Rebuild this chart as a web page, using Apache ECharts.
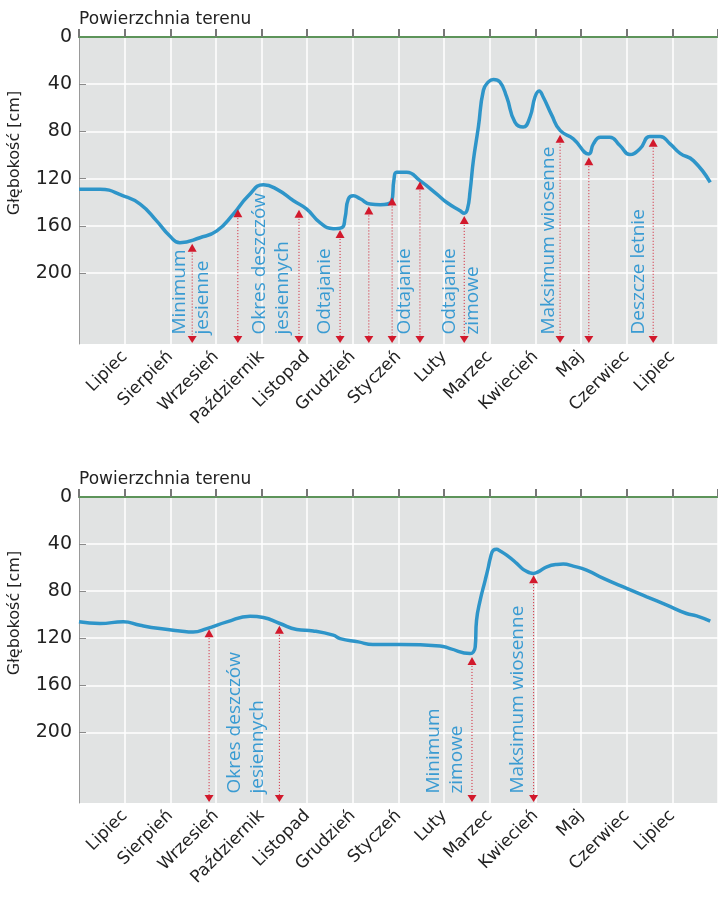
<!DOCTYPE html>
<html>
<head>
<meta charset="utf-8">
<script src="https://cdn.jsdelivr.net/npm/echarts@6/dist/echarts.min.js"></script>
<style>
  html, body {margin: 0; padding: 0; background: #fff;}
  #chart {width: 718px; height: 900px;}
</style>
</head>
<body>
<div id="chart"></div>
<script>
// month labels sit on ticks 1..13
const months = ['Lipiec', 'Sierpień', 'Wrzesień', 'Październik', 'Listopad', 'Grudzień',
  'Styczeń', 'Luty', 'Marzec', 'Kwiecień', 'Maj', 'Czerwiec', 'Lipiec'];
const depthTicks = [0, 40, 80, 120, 160, 200];
const DEPTH_MAX = 260;

// [month position, depth cm]
const profileA = [
  [0, 129], [0.46, 129], [0.97, 134.5], [1.34, 141.5], [1.70, 155.7], [1.99, 168.5],
  [2.21, 174.2], [2.65, 170], [3.02, 164.2], [3.38, 150], [3.71, 134.5], [4.04, 125.1],
  [4.33, 128.8], [4.70, 138.7], [4.99, 145.8], [5.28, 157.2], [5.57, 162.3], [5.76, 161.4],
  [5.83, 152.9], [5.90, 137.3], [6.01, 134.5], [6.16, 137], [6.38, 141.5], [6.60, 142],
  [6.85, 139], [6.90, 121], [6.96, 114.6], [7.18, 114.6], [7.47, 121.7], [7.84, 133],
  [8.06, 140.2], [8.35, 147.2], [8.44, 149.2], [8.51, 145.8], [8.57, 130], [8.64, 104.7],
  [8.75, 76.3], [8.86, 45.1], [8.97, 38], [9.08, 36], [9.22, 38], [9.37, 50.8],
  [9.55, 72.1], [9.73, 76.3], [9.88, 67.8], [9.99, 50.8], [10.08, 45.7], [10.17, 50.8],
  [10.36, 66.4], [10.54, 79.1], [10.83, 86.2], [11.17, 99], [11.27, 90.5], [11.42, 84.8],
  [11.63, 84.8], [11.85, 91.9], [12.07, 99.6], [12.29, 94.7], [12.51, 84.2], [12.73, 84.2],
  [12.95, 90.5], [13.17, 98.5], [13.46, 104.7], [13.83, 123.1]
];
const profileB = [
  [0, 106], [0.46, 107.5], [0.97, 106], [1.34, 109], [1.77, 111.8], [2.21, 113.8],
  [2.50, 114.7], [2.80, 111.8], [3.24, 106.1], [3.75, 101.3], [4.04, 102.4], [4.40, 107.5],
  [4.77, 112.6], [5.13, 113.8], [5.57, 117.4], [5.72, 120.3], [6.12, 123.1], [6.44, 125.4],
  [7.04, 125.4], [7.91, 126.5], [8.13, 128.8], [8.57, 133], [8.64, 131.7], [8.68, 127.6],
  [8.71, 104.7], [8.79, 87.7], [8.90, 70.6], [8.97, 59.3], [9.01, 52.2], [9.08, 45.1],
  [9.15, 44.5], [9.22, 45.7], [9.37, 49.4], [9.59, 56.4], [9.73, 61.5], [9.88, 64.4],
  [9.95, 65], [10.06, 63.6], [10.25, 59.3], [10.47, 57.3], [10.61, 57], [10.83, 58.7],
  [11.12, 62.1], [11.49, 69.2], [12.00, 77.7], [12.44, 84.8], [12.88, 91.9], [13.31, 99],
  [13.53, 101], [13.83, 105.5]
];

// arrow markers: [month position, depth of upper tip]
const arrowsA = [[2.48, 175], [3.48, 145.8], [4.82, 146.4], [5.72, 163.4], [6.35, 143.5],
  [6.86, 135.9], [7.47, 122.3], [8.44, 151.5], [10.54, 82.8], [11.17, 101.8], [12.58, 86.2]];
const arrowsB = [[2.85, 112.3], [4.39, 109.5], [8.61, 135.9], [9.96, 66.4]];

const notesA = ['Minimum\njesienne', 'Okres deszczów\njesiennych', 'Odtajanie', 'Odtajanie',
  'Odtajanie\nzimowe', 'Maksimum wiosenne', 'Deszcze letnie'];
const notesAPos = [2.46, 4.21, 5.39, 7.14, 8.37, 10.28, 12.25];
const notesB = ['Okres deszczów\njesiennych', 'Minimum\nzimowe', 'Maksimum wiosenne'];
const notesBPos = [3.65, 8.03, 9.62];
const NOTE_BASE = 252;

const RED = '#d2192c';
const LINE_BLUE = '#2e95c9';
const TEXT_BLUE = '#3a9bd2';
const AXIS_FONT = '"DejaVu Sans"';

const chart = echarts.init(document.getElementById('chart'));

const arrowItem = (params, api) => {
  const top = api.coord([api.value(0), api.value(1)]);
  const bot = api.coord([api.value(0), DEPTH_MAX]);
  const x = top[0];
  return {
    type: 'group',
    children: [
      {type: 'line', shape: {x1: x, y1: top[1] + 6, x2: x, y2: bot[1] - 6},
        style: {stroke: RED, lineWidth: 1, lineDash: [1, 2]}},
      {type: 'polygon', shape: {points: [[x, top[1]], [x - 4.5, top[1] + 8], [x + 4.5, top[1] + 8]]},
        style: {fill: RED}},
      {type: 'polygon', shape: {points: [[x, bot[1] - 1], [x - 4.5, bot[1] - 8], [x + 4.5, bot[1] - 8]]},
        style: {fill: RED}}
    ]
  };
};

const noteItem = (texts) => (params, api) => {
  const p = api.coord([api.value(0), NOTE_BASE]);
  return {
    type: 'text',
    x: p[0],
    y: p[1],
    rotation: Math.PI / 2,
    style: {
      text: texts[params.dataIndex],
      fill: TEXT_BLUE,
      font: '19px "Open Sans"',
      lineHeight: 23,
      textAlign: 'left',
      textVerticalAlign: 'middle'
    }
  };
};

const bottomAxis = (gridIndex) => ({
  type: 'value', gridIndex, min: 0, max: 14, interval: 1,
  axisLine: {lineStyle: {color: '#5f5f5f', width: 2}},
  axisTick: {inside: true, length: 8, lineStyle: {color: '#777', width: 2}},
  splitLine: {show: true, lineStyle: {color: '#fff', width: 1.5}},
  axisLabel: {
    customValues: months.map((m, i) => i + 1),
    formatter: (v) => months[v - 1] || '',
    rotate: 45, margin: 10, fontSize: 17, color: '#222', fontFamily: AXIS_FONT
  }
});

const topAxis = (gridIndex) => ({
  type: 'value', gridIndex, position: 'top', min: 0, max: 14,
  axisLine: {lineStyle: {color: '#5ea65a', width: 1.5}},
  axisTick: {show: false}, axisLabel: {show: false}, splitLine: {show: false}
});

const depthAxis = (gridIndex) => ({
  type: 'value', gridIndex, inverse: true, min: 0, max: DEPTH_MAX, interval: 40,
  axisLine: {show: true, lineStyle: {color: '#999', width: 1}},
  axisTick: {show: true, inside: true, length: 7, customValues: depthTicks.slice(1),
    lineStyle: {color: '#8a8a8a'}},
  splitLine: {show: true, lineStyle: {color: '#fff', width: 1.5}},
  axisLabel: {customValues: depthTicks, margin: 7, fontSize: 19, color: '#222', fontFamily: AXIS_FONT}
});

const titleStyle = {fontSize: 17, fontWeight: 'normal', color: '#222', fontFamily: AXIS_FONT};
const nameStyle = {text: 'Głębokość [cm]', font: '16px ' + AXIS_FONT, fill: '#222',
  textAlign: 'center', textVerticalAlign: 'middle'};

chart.setOption({
  animation: false,
  title: [
    {text: 'Powierzchnia terenu', left: 79, top: 11, padding: 0, textStyle: titleStyle},
    {text: 'Powierzchnia terenu', left: 79, top: 471, padding: 0, textStyle: titleStyle}
  ],
  graphic: [
    {type: 'text', x: 15, y: 153, rotation: Math.PI / 2, style: nameStyle},
    {type: 'text', x: 15, y: 613, rotation: Math.PI / 2, style: nameStyle}
  ],
  grid: [
    {left: 79, top: 37, width: 639, height: 307, show: true, backgroundColor: '#e1e3e3', borderWidth: 0},
    {left: 79, top: 497, width: 639, height: 306, show: true, backgroundColor: '#e1e3e3', borderWidth: 0}
  ],
  xAxis: [bottomAxis(0), topAxis(0), bottomAxis(1), topAxis(1)],
  yAxis: [depthAxis(0), depthAxis(1)],
  series: [
    {type: 'line', xAxisIndex: 0, yAxisIndex: 0, data: profileA, smooth: 0.5,
      showSymbol: false, lineStyle: {color: LINE_BLUE, width: 3.5}, z: 3},
    {type: 'line', xAxisIndex: 2, yAxisIndex: 1, data: profileB, smooth: 0.5,
      showSymbol: false, lineStyle: {color: LINE_BLUE, width: 3.5}, z: 3},
    {type: 'custom', xAxisIndex: 0, yAxisIndex: 0, data: arrowsA, renderItem: arrowItem, z: 4},
    {type: 'custom', xAxisIndex: 2, yAxisIndex: 1, data: arrowsB, renderItem: arrowItem, z: 4},
    {type: 'custom', xAxisIndex: 0, yAxisIndex: 0, data: notesAPos.map(v => [v]),
      renderItem: noteItem(notesA), z: 4},
    {type: 'custom', xAxisIndex: 2, yAxisIndex: 1, data: notesBPos.map(v => [v]),
      renderItem: noteItem(notesB), z: 4}
  ]
});
</script>
</body>
</html>
